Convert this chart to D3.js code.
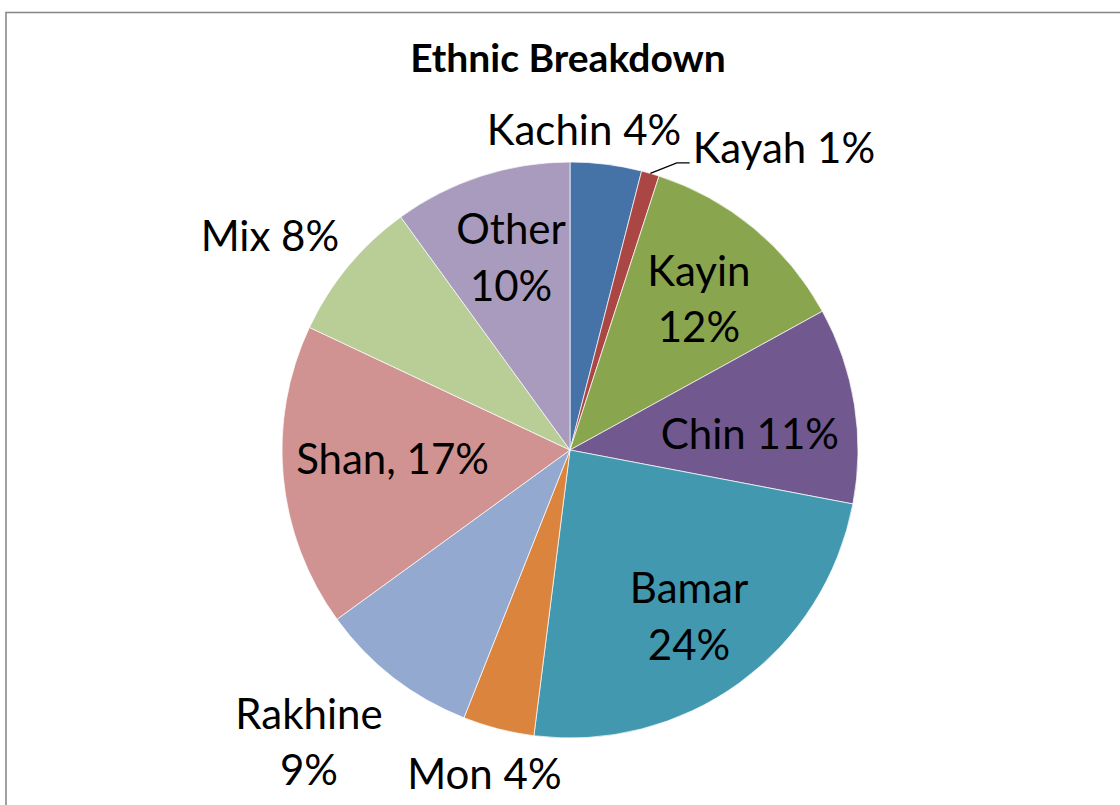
<!DOCTYPE html>
<html>
<head>
<meta charset="utf-8">
<script src="https://cdn.jsdelivr.net/npm/d3@7"></script>
<style>
  html, body { margin: 0; padding: 0; background: #fff; }
  svg { display: block; }
  text { font-family: Lato, "Open Sans", sans-serif; fill: #000; }
</style>
</head>
<body>
<svg id="chart" width="1120" height="805"></svg>
<script>
// Ethnic groups and their share of the total (percent)
const categories = ["Kachin", "Kayah", "Kayin", "Chin", "Bamar", "Mon", "Rakhine", "Shan", "Mix", "Other"];
const shares = [4, 1, 12, 11, 24, 4, 9, 17, 8, 10];
const sliceColors = ["#4572A7", "#AA4643", "#89A54E", "#71588F", "#4198AF",
                     "#DB843D", "#93A9CF", "#D19392", "#B9CD96", "#A99BBD"];
const chartTitle = "Ethnic Breakdown";

// Label placement: radius as a fraction of the pie radius, angular nudge (degrees),
// and how the name and percentage are joined.
const labelLayout = {
  Kachin:  { r: 1.112, da: -4.7, sep: " " },
  Kayah:   { r: 1.285, da: 19.1, sep: " ", leader: { r: 1.064, da: 4.2 } },
  Kayin:   { r: 0.689, da: 0.9,  sep: "\n" },
  Chin:    { r: 0.627, da: 3.9,  sep: " " },
  Bamar:   { r: 0.710, da: 0.4,  sep: "\n" },
  Mon:     { r: 1.164, da: 0.4,  sep: " " },
  Rakhine: { r: 1.360, da: 4.0,  sep: "\n" },
  Shan:    { r: 0.617, da: 2.5,  sep: ", " },
  Mix:     { r: 1.280, da: -4.1, sep: " " },
  Other:   { r: 0.700, da: 1.0,  sep: "\n" }
};

const svg = d3.select("#chart");
const cx = 570, cy = 450, R = 288;
const fontSize = 42, lineGap = 56.5;

// chart frame
svg.append("rect")
  .attr("x", 6).attr("y", 12.5)
  .attr("width", 1300).attr("height", 1000)
  .attr("fill", "none")
  .attr("stroke", "#8a8a8a")
  .attr("stroke-width", 1.6);

svg.append("text")
  .attr("x", 568).attr("y", 72)
  .attr("text-anchor", "middle")
  .attr("font-weight", 700)
  .attr("font-size", 39)
  .text(chartTitle);

const data = categories.map((c, i) => ({ name: c, value: shares[i], color: sliceColors[i] }));
const total = d3.sum(shares);

const pie = d3.pie().sort(null).value(d => d.value);
const arc = d3.arc().innerRadius(0).outerRadius(R);
const arcs = pie(data);

const g = svg.append("g").attr("transform", `translate(${cx},${cy})`);

g.selectAll("path.slice")
  .data(arcs)
  .join("path")
  .attr("class", "slice")
  .attr("d", arc)
  .attr("fill", d => d.data.color)
  .attr("stroke", "#ffffff")
  .attr("stroke-opacity", 0.7)
  .attr("stroke-width", 1);

const rad = deg => deg * Math.PI / 180;
const polar = (angle, r) => [Math.sin(angle) * r, -Math.cos(angle) * r];

const labels = g.append("g");
arcs.forEach(d => {
  const lay = labelLayout[d.data.name];
  const mid = (d.startAngle + d.endAngle) / 2;
  const pct = Math.round(d.data.value / total * 100) + "%";
  const lines = (d.data.name + lay.sep + pct).split("\n");
  const [lx, ly] = polar(mid + rad(lay.da), lay.r * R);

  if (lay.leader) {
    // text starts at the end of a short elbow leader
    const start = polar(mid, R);
    const elbow = polar(mid + rad(lay.leader.da), lay.leader.r * R);
    const t = labels.append("text")
      .attr("font-size", fontSize)
      .attr("text-anchor", "middle")
      .attr("x", lx)
      .attr("y", ly + fontSize * 0.36)
      .text(lines[0]);
    const w = t.node().getComputedTextLength();
    const end = [lx - w / 2 - 3, elbow[1]];
    labels.append("polyline")
      .attr("points", [start, elbow, end].map(p => p.join(",")).join(" "))
      .attr("fill", "none")
      .attr("stroke", "#000")
      .attr("stroke-width", 1.3);
    return;
  }

  const t = labels.append("text")
    .attr("font-size", fontSize)
    .attr("text-anchor", "middle");
  lines.forEach((ln, i) => {
    t.append("tspan")
      .attr("x", lx)
      .attr("y", ly + (i - (lines.length - 1) / 2) * lineGap + fontSize * 0.36)
      .text(ln);
  });
});
</script>
</body>
</html>
